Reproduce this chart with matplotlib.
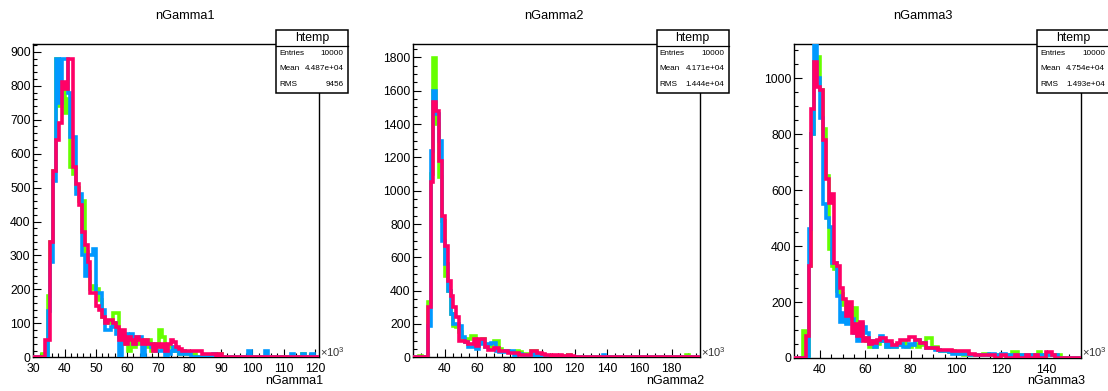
import numpy as np
import matplotlib.pyplot as plt
from matplotlib.ticker import MultipleLocator
from matplotlib.patches import Rectangle
from matplotlib.lines import Line2D

plt.rcParams['font.family'] = ['Liberation Sans', 'DejaVu Sans']
plt.rcParams['mathtext.default'] = 'regular'

# ---- data: 100-bin histograms, counts per bin ----
titles = ['nGamma1', 'nGamma2', 'nGamma3']
x_ranges = [(30.0, 121.4), (20.4, 197.5), (28.7, 155.0)]   # in units of 10^3
y_tops = [923, 1884, 1125]

green1 = [0, 0, 0, 10, 0, 180, 340, 550, 880, 740,
          800, 720, 760, 560, 540, 500, 460, 460, 310, 250,
          200, 210, 200, 170, 120, 100, 100, 100, 130, 130,
          60, 40, 60, 20, 50, 30, 40, 50, 50, 30,
          50, 20, 40, 30, 80, 60, 20, 30, 30, 20,
          20, 10, 20, 10, 10, 10, 10, 0, 0, 0,
          0, 0, 0, 0, 10, 10, 0, 0, 0, 0,
          0, 0, 0, 0, 0, 0, 0, 0, 0, 0,
          0, 0, 0, 0, 0, 0, 0, 0, 0, 0,
          0, 0, 0, 0, 10, 0, 0, 0, 0, 0]
blue1 = [0, 0, 0, 0, 0, 135, 280, 520, 880, 750,
         880, 880, 780, 650, 650, 480, 480, 300, 240, 300,
         300, 320, 190, 190, 140, 80, 80, 90, 100, 70,
         0, 60, 70, 60, 70, 40, 60, 60, 0, 40,
         40, 30, 30, 20, 20, 30, 0, 10, 20, 30,
         20, 10, 20, 10, 10, 0, 0, 0, 0, 0,
         0, 0, 0, 10, 0, 0, 0, 0, 0, 0,
         0, 0, 0, 0, 0, 20, 0, 0, 0, 0,
         0, 20, 0, 0, 0, 0, 0, 0, 0, 0,
         10, 0, 0, 0, 10, 0, 0, 10, 0, 0]
pink1 = [0, 0, 0, 0, 50, 50, 340, 550, 640, 690,
         810, 790, 880, 880, 560, 510, 450, 370, 330, 280,
         190, 190, 150, 140, 120, 100, 110, 110, 100, 90,
         50, 80, 40, 60, 50, 40, 60, 50, 40, 50,
         40, 40, 20, 40, 30, 40, 20, 40, 50, 45,
         30, 25, 20, 20, 20, 20, 20, 20, 20, 10,
         10, 10, 10, 10, 0, 10, 0, 0, 0, 0,
         0, 0, 0, 0, 0, 0, 0, 0, 0, 0,
         0, 0, 0, 0, 0, 0, 0, 0, 0, 0,
         0, 0, 0, 0, 0, 0, 0, 0, 0, 0]

green2 = [0, 0, 10, 0, 0, 330, 1100, 1795, 1400, 1080,
          820, 490, 400, 260, 190, 180, 150, 110, 100, 110,
          130, 130, 90, 100, 110, 70, 60, 60, 100, 100,
          50, 40, 40, 30, 30, 30, 40, 30, 20, 20,
          20, 40, 40, 20, 20, 15, 10, 10, 10, 10,
          10, 10, 10, 10, 15, 0, 0, 0, 0, 0,
          0, 0, 0, 0, 0, 0, 0, 0, 0, 0,
          0, 0, 0, 0, 0, 0, 0, 0, 0, 0,
          0, 0, 0, 0, 0, 0, 0, 0, 0, 0,
          0, 0, 0, 0, 0, 15, 0, 0, 0, 0]
blue2 = [0, 0, 0, 0, 0, 190, 1240, 1600, 1460, 1300,
         700, 560, 400, 260, 200, 200, 190, 120, 90, 60,
         60, 80, 50, 90, 80, 60, 80, 85, 85, 40,
         30, 30, 40, 35, 35, 0, 20, 20, 15, 10,
         10, 20, 10, 10, 10, 10, 5, 5, 5, 5,
         5, 5, 0, 0, 0, 0, 0, 0, 0, 0,
         0, 0, 0, 0, 0, 0, 15, 0, 0, 0,
         0, 0, 0, 0, 0, 0, 0, 0, 0, 0,
         0, 0, 0, 0, 0, 0, 0, 0, 0, 0,
         0, 0, 0, 0, 0, 0, 0, 0, 0, 0]
pink2 = [0, 0, 0, 0, 0, 300, 1050, 1530, 1480, 1180,
         850, 670, 460, 370, 300, 240, 100, 100, 90, 80,
         80, 110, 70, 110, 110, 60, 45, 45, 55, 55,
         35, 35, 35, 25, 25, 25, 25, 15, 15, 15,
         15, 35, 35, 25, 25, 20, 15, 15, 10, 15,
         10, 15, 10, 10, 15, 10, 0, 0, 0, 0,
         0, 0, 0, 0, 0, 0, 0, 0, 0, 0,
         0, 0, 0, 0, 0, 0, 0, 0, 0, 0,
         0, 0, 0, 0, 0, 0, 0, 0, 0, 0,
         0, 0, 0, 0, 0, 0, 0, 0, 0, 0]

green3 = [0, 0, 0, 95, 0, 330, 800, 1060, 1075, 960,
          820, 650, 390, 330, 320, 240, 230, 190, 150, 180,
          150, 180, 90, 110, 70, 60, 40, 60, 40, 50,
          60, 60, 40, 50, 40, 40, 45, 50, 60, 40,
          40, 45, 50, 40, 50, 45, 70, 70, 40, 40,
          30, 25, 25, 25, 20, 25, 20, 20, 15, 10,
          15, 10, 10, 10, 10, 10, 15, 15, 10, 10,
          10, 0, 10, 10, 10, 10, 20, 20, 10, 10,
          0, 10, 10, 10, 10, 20, 10, 0, 10, 10,
          10, 10, 10, 0, 0, 0, 0, 0, 0, 0]
blue3 = [0, 0, 0, 0, 0, 460, 800, 1130, 1000, 860,
         550, 500, 470, 340, 340, 220, 130, 160, 120, 140,
         140, 90, 60, 120, 110, 90, 50, 60, 40, 60,
         80, 60, 40, 50, 40, 40, 45, 50, 40, 40,
         50, 45, 65, 65, 55, 55, 35, 35, 35, 30,
         30, 25, 25, 25, 20, 15, 15, 15, 15, 15,
         15, 10, 10, 10, 10, 10, 10, 10, 15, 15,
         10, 10, 15, 15, 10, 10, 10, 10, 10, 10,
         0, 10, 10, 10, 10, 10, 10, 10, 10, 10,
         10, 10, 0, 0, 0, 0, 0, 0, 0, 0]
pink3 = [0, 0, 0, 0, 80, 330, 890, 1060, 970, 960,
         780, 640, 555, 585, 340, 330, 250, 210, 150, 200,
         90, 120, 80, 130, 60, 70, 50, 60, 55, 65,
         70, 70, 60, 60, 45, 45, 55, 65, 65, 65,
         75, 75, 65, 65, 55, 55, 35, 35, 35, 35,
         30, 30, 30, 30, 30, 25, 25, 25, 25, 25,
         25, 15, 15, 10, 10, 10, 10, 10, 10, 10,
         0, 0, 10, 10, 0, 0, 0, 10, 0, 0,
         0, 10, 0, 0, 10, 0, 0, 0, 20, 20,
         10, 0, 0, 0, 0, 0, 0, 0, 0, 0]

greens = [green1, green2, green3]
blues = [blue1, blue2, blue3]
pinks = [pink1, pink2, pink3]

stat_entries = ['10000', '10000', '10000']
stat_mean = ['4.487e+04', '4.171e+04', '4.754e+04']
stat_rms = ['9456', '1.444e+04', '1.493e+04']

x_major = [10, 20, 20]
x_minor = [2, 5, 5]
y_major = [100, 200, 200]
y_minor = [20, 50, 50]

colors = ['#66ff00', '#0099ff', '#ff0066']

# ---- layout (pixels) ----
W, H = 1108, 391
frames = [(33.3, 319.3, 44.0, 357.3), (413.3, 700.0, 43.5, 357.3), (794.3, 1080.7, 43.5, 358.0)]
pad_centers = [184.7, 554.0, 923.3]


def fx(px):
    return px / W


def fy(py):
    return 1 - py / H


fig = plt.figure(figsize=(W / 100, H / 100), dpi=100)

for i in range(3):
    l, r, t, b = frames[i]
    ax = fig.add_axes([fx(l), fy(b), (r - l) / W, (b - t) / H])
    lo, hi = x_ranges[i]
    edges = np.linspace(lo, hi, len(pinks[i]) + 1)
    for vals, col in zip((greens[i], blues[i], pinks[i]), colors):
        ax.stairs(vals, edges, baseline=0, color=col, lw=2.6, zorder=3)
    ax.set_xlim(lo, hi)
    ax.set_ylim(0, y_tops[i])
    ax.xaxis.set_major_locator(MultipleLocator(x_major[i]))
    ax.xaxis.set_minor_locator(MultipleLocator(x_minor[i]))
    ax.yaxis.set_major_locator(MultipleLocator(y_major[i]))
    ax.yaxis.set_minor_locator(MultipleLocator(y_minor[i]))
    ax.tick_params(which='both', direction='in', top=False, right=False, width=0.8, labelsize=8.8)
    ax.tick_params(which='major', length=5.8)
    ax.tick_params(which='minor', length=2.9)
    ax.tick_params(axis='y', pad=2)
    ax.tick_params(axis='x', pad=4)
    for s in ax.spines.values():
        s.set_linewidth(1.0)

    # title, axis label, exponent
    fig.text(fx(pad_centers[i]), fy(16), titles[i], ha='center', va='center', fontsize=9.2)
    fig.text(fx(r + 4), fy(381), titles[i], ha='right', va='center', fontsize=9)
    fig.text(fx(r + 1), fy(352), r'$\times10^{3}$', ha='left', va='center', fontsize=8, color='#333333')

    # stat box
    bx0, bx1, by0, by1 = r - 43.3, r + 28.5, 30.5, 92.5
    fig.add_artist(Rectangle((fx(bx0), fy(by1)), (bx1 - bx0) / W, (by1 - by0) / H,
                             transform=fig.transFigure, facecolor='white',
                             edgecolor='black', lw=1.1, zorder=10))
    fig.add_artist(Line2D([fx(bx0), fx(bx1)], [fy(45.5), fy(45.5)], transform=fig.transFigure,
                          color='black', lw=0.9, zorder=11))
    fig.text(fx((bx0 + bx1) / 2), fy(38), 'htemp', ha='center', va='center', fontsize=8.8, zorder=12)
    rows = [('Entries', stat_entries[i], 53.5), ('Mean', stat_mean[i], 69), ('RMS', stat_rms[i], 85)]
    for lab, val, yy in rows:
        fig.text(fx(bx0 + 3), fy(yy), lab, ha='left', va='center', fontsize=5.9, zorder=12)
        fig.text(fx(bx1 - 4), fy(yy), val, ha='right', va='center', fontsize=5.9, zorder=12)

fig.savefig('out.png', dpi=100)
